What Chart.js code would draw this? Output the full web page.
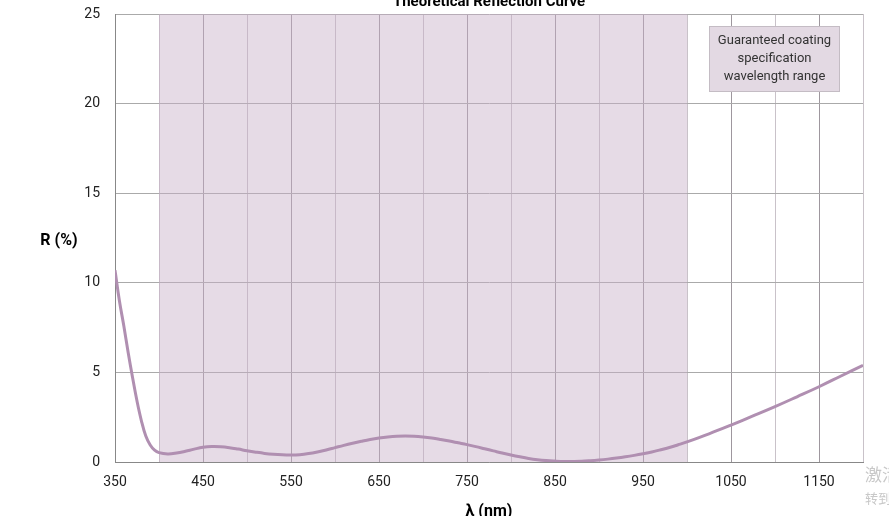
<!DOCTYPE html>
<html><head><meta charset="utf-8">
<script src="https://cdn.jsdelivr.net/npm/chart.js@4"></script>
<style>html,body{margin:0;padding:0;background:#fff;}#wrap{width:889px;height:516px;position:relative;}</style>
</head><body><div id="wrap"><canvas id="c" width="889" height="516"></canvas></div>
<script>
const wavelengths = [350,355,360,365,370,375,380,385,390,395,400,410,420,430,440,450,460,470,480,490,500,510,520,530,540,550,560,570,580,590,600,610,620,630,640,650,660,670,680,690,700,710,720,730,740,750,760,770,780,790,800,810,820,830,840,850,860,870,880,890,900,910,920,930,940,950,960,970,980,990,1000,1025,1050,1075,1100,1125,1150,1175,1200];
const reflectance = [10.7,9.0,7.6,6.1,4.7,3.4,2.3,1.45,0.95,0.66,0.52,0.45,0.5,0.6,0.72,0.82,0.86,0.85,0.8,0.72,0.63,0.55,0.48,0.43,0.4,0.39,0.41,0.47,0.56,0.67,0.8,0.93,1.05,1.16,1.26,1.34,1.4,1.44,1.45,1.44,1.4,1.34,1.26,1.17,1.07,0.97,0.86,0.74,0.62,0.5,0.39,0.29,0.2,0.13,0.08,0.05,0.03,0.03,0.04,0.07,0.11,0.16,0.22,0.29,0.37,0.46,0.56,0.68,0.81,0.96,1.12,1.57,2.06,2.57,3.09,3.64,4.2,4.8,5.4];
const xLabelTicks = [350,450,550,650,750,850,950,1050,1150];
const yLabelTicks = [0,5,10,15,20,25];
const bandRange = [400,1000];
const titleText = 'Theoretical Reflection Curve';
const xTitle = 'λ (nm)';
const yTitle = 'R (%)';
const noteLines = ['Guaranteed coating','specification','wavelength range'];
const watermark = ['激活 Windows','转到“设置”以激活 Windows。'];

const FONT = 'Roboto, "Noto Sans", sans-serif';

const overlay = {
  id:'overlay',
  beforeDatasetsDraw(chart){
    const {ctx, chartArea:a, scales:{x}} = chart;
    ctx.save();
    ctx.fillStyle = 'rgba(200,175,200,0.45)';
    const x0 = x.getPixelForValue(bandRange[0]), x1 = x.getPixelForValue(bandRange[1]);
    ctx.fillRect(x0, a.top, x1-x0, a.bottom-a.top);
    ctx.restore();
  },
  afterDraw(chart){
    const {ctx, chartArea:a} = chart;
    ctx.save();
    ctx.fillStyle = '#000';
    ctx.textAlign = 'center';
    ctx.textBaseline = 'alphabetic';
    ctx.font = 'bold 15px ' + FONT;
    ctx.fillText(titleText, (a.left+a.right)/2, 6);
    ctx.font = 'bold 16px ' + FONT;
    ctx.fillText(xTitle, (a.left+a.right)/2, 516);
    ctx.fillText(yTitle, 59, 245);
    // note box
    const bx = 709, by = 26, bw = 131, bh = 66;
    ctx.fillStyle = '#e3d9e3';
    ctx.fillRect(bx, by, bw, bh);
    ctx.strokeStyle = '#c4bcc4';
    ctx.lineWidth = 1;
    ctx.strokeRect(bx+0.5, by+0.5, bw-1, bh-1);
    ctx.fillStyle = '#333';
    ctx.font = '13px ' + FONT;
    ctx.textBaseline = 'middle';
    noteLines.forEach((t,i)=>ctx.fillText(t, bx+bw/2, 41+i*18));
    // watermark
    ctx.textAlign = 'left';
    ctx.fillStyle = '#c8c8c8';
    ctx.font = '17px "Noto Sans CJK SC", sans-serif';
    ctx.fillText(watermark[0], 865, 475);
    ctx.font = '13px "Noto Sans CJK SC", sans-serif';
    ctx.fillText(watermark[1], 865, 498);
    ctx.restore();
  }
};

new Chart(document.getElementById('c'), {
  type:'scatter',
  data:{datasets:[{
    data: wavelengths.map((w,i)=>({x:w,y:reflectance[i]})),
    showLine:true, pointRadius:0, borderColor:'#b08fb1', borderWidth:3, tension:0.4, fill:false
  }]},
  options:{
    responsive:false, animation:false,
    layout:{padding:{top:14,right:26,left:0,bottom:0}},
    plugins:{legend:{display:false},tooltip:{enabled:false}},
    scales:{
      x:{type:'linear',min:350,max:1200,
        afterFit(s){s.height=54; s.paddingLeft=0; s.paddingRight=0;},
        border:{color:'#888',width:1},
        grid:{drawTicks:false,color:(c)=> xLabelTicks.includes(c.tick.value)?'#9e979e':'#c9c2c9',lineWidth:1},
        ticks:{stepSize:50,padding:12,color:'#222',font:{family:FONT,size:14},maxRotation:0,autoSkip:false,
          callback:(v)=> xLabelTicks.includes(v)?String(v):''}
      },
      y:{type:'linear',min:0,max:25,
        afterFit(s){s.width=115; s.paddingTop=0; s.paddingBottom=0;},
        border:{color:'#888',width:1},
        grid:{drawTicks:false,color:'#aaa',lineWidth:1},
        ticks:{stepSize:5,padding:15,color:'#222',font:{family:FONT,size:14},
          callback:(v)=> yLabelTicks.includes(v)?String(v):''}
      }
    }
  },
  plugins:[overlay]
});
</script></body></html>
